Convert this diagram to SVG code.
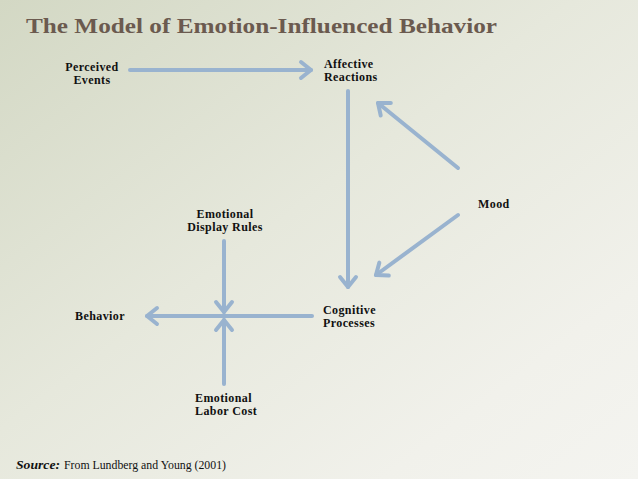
<svg xmlns="http://www.w3.org/2000/svg" width="638" height="479" viewBox="0 0 638 479">
<defs>
<linearGradient id="bg" x1="0" y1="0" x2="1" y2="1" gradientUnits="objectBoundingBox">
<stop offset="0" stop-color="#d3d8c4"/>
<stop offset="0.45" stop-color="#e6e8dc"/>
<stop offset="0.8" stop-color="#f1f1eb"/>
<stop offset="1" stop-color="#f4f4f0"/>
</linearGradient>
<marker id="ah" markerUnits="userSpaceOnUse" markerWidth="30" markerHeight="30" viewBox="-15 -15 30 30" refX="0" refY="0" orient="auto">
<path d="M-10,-8 L0,0 L-10,8" fill="none" stroke="#99b3cf" stroke-width="4" stroke-linecap="round" stroke-linejoin="round"/>
</marker>
</defs>
<style>
.lbl{font-family:"Liberation Serif","DejaVu Serif",serif;font-weight:bold;font-size:12px;letter-spacing:0.4px;fill:#111}
.c{text-anchor:middle}
.ar{fill:none;stroke:#99b3cf;stroke-width:4;stroke-linecap:round;marker-end:url(#ah)}
</style>
<rect width="638" height="479" fill="url(#bg)"/>
<text x="26" y="33" font-family="'Liberation Serif','DejaVu Serif',serif" font-weight="bold" font-size="21" fill="#6b5a4f" textLength="471" lengthAdjust="spacingAndGlyphs">The Model of Emotion-Influenced Behavior</text>
<g id="connectors">
<line class="ar" x1="130" y1="70" x2="311" y2="70"/>
<line class="ar" x1="348" y1="91" x2="348" y2="287"/>
<line class="ar" x1="458" y1="168" x2="378" y2="103"/>
<line class="ar" x1="458" y1="215" x2="376" y2="275"/>
<line class="ar" x1="312" y1="316" x2="147" y2="316"/>
<line class="ar" x1="224" y1="241" x2="224" y2="312"/>
<line class="ar" x1="224" y1="384" x2="224" y2="320"/>
</g>
<g id="perceived"><text class="lbl c" x="92" y="71">Perceived</text><text class="lbl c" x="92" y="84">Events</text></g>
<g id="affective"><text class="lbl" x="324" y="68">Affective</text><text class="lbl" x="324" y="81">Reactions</text></g>
<g id="mood"><text class="lbl" x="478" y="208">Mood</text></g>
<g id="display"><text class="lbl c" x="225" y="218">Emotional</text><text class="lbl c" x="225" y="231">Display Rules</text></g>
<g id="cognitive"><text class="lbl" x="323" y="314">Cognitive</text><text class="lbl" x="323" y="327">Processes</text></g>
<g id="behavior"><text class="lbl c" x="100" y="320">Behavior</text></g>
<g id="labor"><text class="lbl" x="195" y="402">Emotional</text><text class="lbl" x="195" y="415">Labor Cost</text></g>
<text y="469" font-family="'Liberation Serif','DejaVu Serif',serif" font-size="11.8" fill="#111"><tspan x="16" font-weight="bold" font-style="italic" textLength="44" lengthAdjust="spacingAndGlyphs">Source:</tspan><tspan x="64">From Lundberg and Young (2001)</tspan></text>
</svg>
